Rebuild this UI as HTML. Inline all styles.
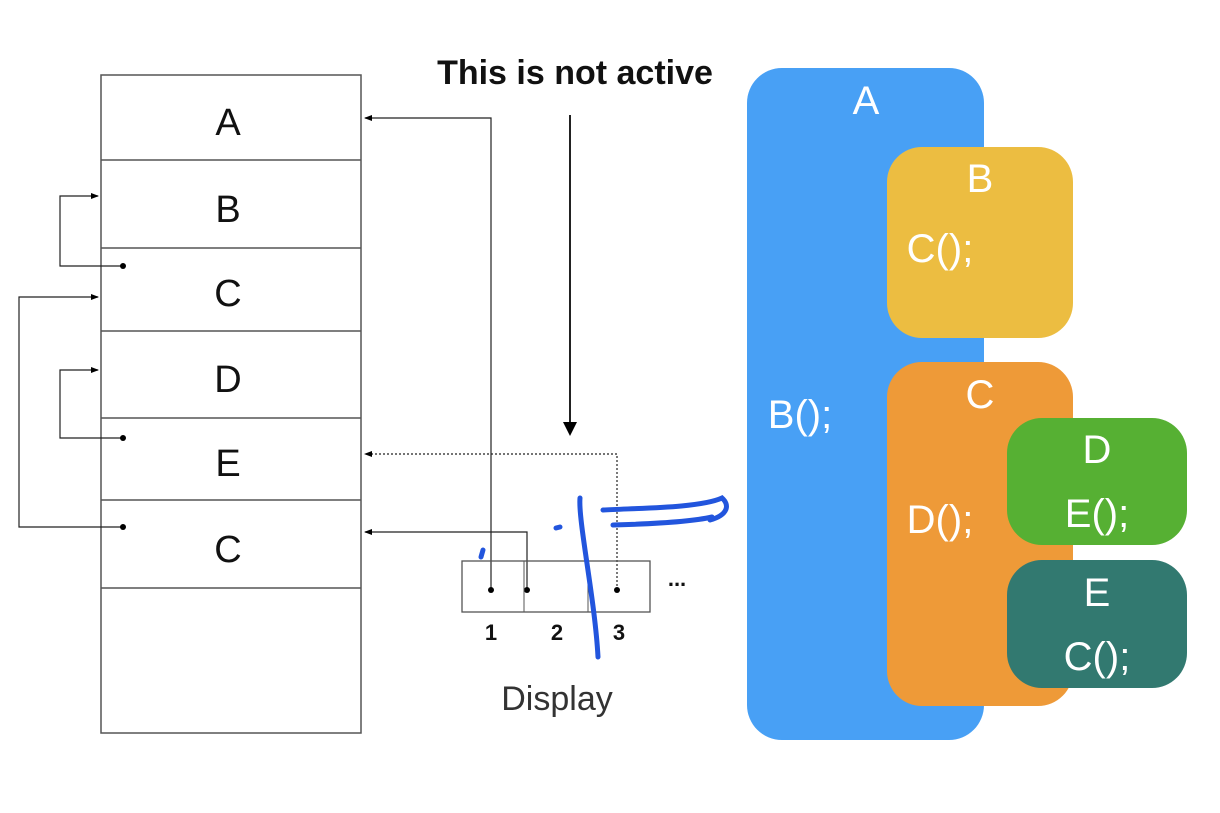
<!DOCTYPE html>
<html><head><meta charset="utf-8"><style>
body{margin:0;background:#fff;width:1220px;height:808px;overflow:hidden;font-family:"Liberation Sans",sans-serif}
</style></head><body>
<svg width="1220" height="808" xmlns="http://www.w3.org/2000/svg">
<defs><marker id="ar" markerWidth="8" markerHeight="8" refX="7" refY="4" orient="auto" markerUnits="userSpaceOnUse"><path d="M0,1 L8,4 L0,7z" fill="#000"/></marker>
<marker id="ar2" markerWidth="14" markerHeight="14" refX="12" refY="7" orient="auto" markerUnits="userSpaceOnUse"><path d="M0,0 L14,7 L0,14z" fill="#000"/></marker></defs>
<!-- stack -->
<rect x="101" y="75" width="260" height="658" fill="none" stroke="#555" stroke-width="1.5"/>
<g stroke="#555" stroke-width="1.5">
<line x1="101" y1="160" x2="361" y2="160"/><line x1="101" y1="248" x2="361" y2="248"/>
<line x1="101" y1="331" x2="361" y2="331"/><line x1="101" y1="418" x2="361" y2="418"/>
<line x1="101" y1="500" x2="361" y2="500"/><line x1="101" y1="588" x2="361" y2="588"/></g>
<g font-size="38" text-anchor="middle" fill="#111">
<text x="228" y="135">A</text><text x="228" y="222">B</text><text x="228" y="306">C</text>
<text x="228" y="392">D</text><text x="228" y="476">E</text><text x="228" y="562">C</text></g>
<g fill="none" stroke="#222" stroke-width="1.2">
<polyline points="123,266 60,266 60,196 98,196" marker-end="url(#ar)"/>
<polyline points="123,527 19,527 19,297 98,297" marker-end="url(#ar)"/>
<polyline points="123,438 60,438 60,370 98,370" marker-end="url(#ar)"/>
<polyline points="491,590 491,118 365,118" marker-end="url(#ar)"/>
<polyline points="527,590 527,532 365,532" marker-end="url(#ar)"/>
<polyline points="617,590 617,454 365,454" stroke-dasharray="2,2" marker-end="url(#ar)"/>
<line x1="570" y1="115" x2="570" y2="434" stroke-width="2" marker-end="url(#ar2)"/>
</g>
<g fill="#000"><circle cx="123" cy="266" r="3"/><circle cx="123" cy="527" r="3"/><circle cx="123" cy="438" r="3"/>
<circle cx="491" cy="590" r="3"/><circle cx="527" cy="590" r="3"/><circle cx="617" cy="590" r="3"/></g>
<rect x="462" y="561" width="188" height="51" fill="none" stroke="#555" stroke-width="1.3"/>
<line x1="524" y1="561" x2="524" y2="612" stroke="#555"/><line x1="588" y1="561" x2="588" y2="612" stroke="#555"/>
<g font-size="22" font-weight="bold" text-anchor="middle" fill="#111"><text x="491" y="640">1</text><text x="557" y="640">2</text><text x="619" y="640">3</text><text x="677" y="586">...</text></g>
<text x="557" y="710" font-size="34" text-anchor="middle" fill="#333">Display</text>
<text x="575" y="84" font-size="34" font-weight="bold" text-anchor="middle" fill="#111">This is not active</text>
<!-- blue pen -->
<g fill="none" stroke="#2255dd" stroke-width="5" stroke-linecap="round">
<path d="M580,498 C578,520 595,600 598,657"/>
<path d="M603,510 C640,508 700,508 722,498 C730,505 728,515 710,520"/>
<path d="M613,525 C650,524 690,522 712,517"/>
<path d="M483,550 L481,557"/>
<path d="M556,528 L560,527"/>
</g>
<!-- right side -->
<rect x="747" y="68" width="237" height="672" rx="35" fill="#48a0f5"/>
<rect x="887" y="147" width="186" height="191" rx="35" fill="#ecbd41"/>
<rect x="887" y="362" width="186" height="344" rx="35" fill="#ee9a38"/>
<rect x="1007" y="418" width="180" height="127" rx="35" fill="#56b033"/>
<rect x="1007" y="560" width="180" height="128" rx="35" fill="#327970"/>
<g fill="#fff" font-size="40" text-anchor="middle">
<text x="866" y="114">A</text><text x="980" y="192">B</text><text x="980" y="408">C</text>
<text x="1097" y="463">D</text><text x="1097" y="606">E</text>
<text x="800" y="428">B();</text><text x="940" y="262">C();</text><text x="940" y="533">D();</text>
<text x="1097" y="527">E();</text><text x="1097" y="670">C();</text></g>
</svg>
</body></html>
